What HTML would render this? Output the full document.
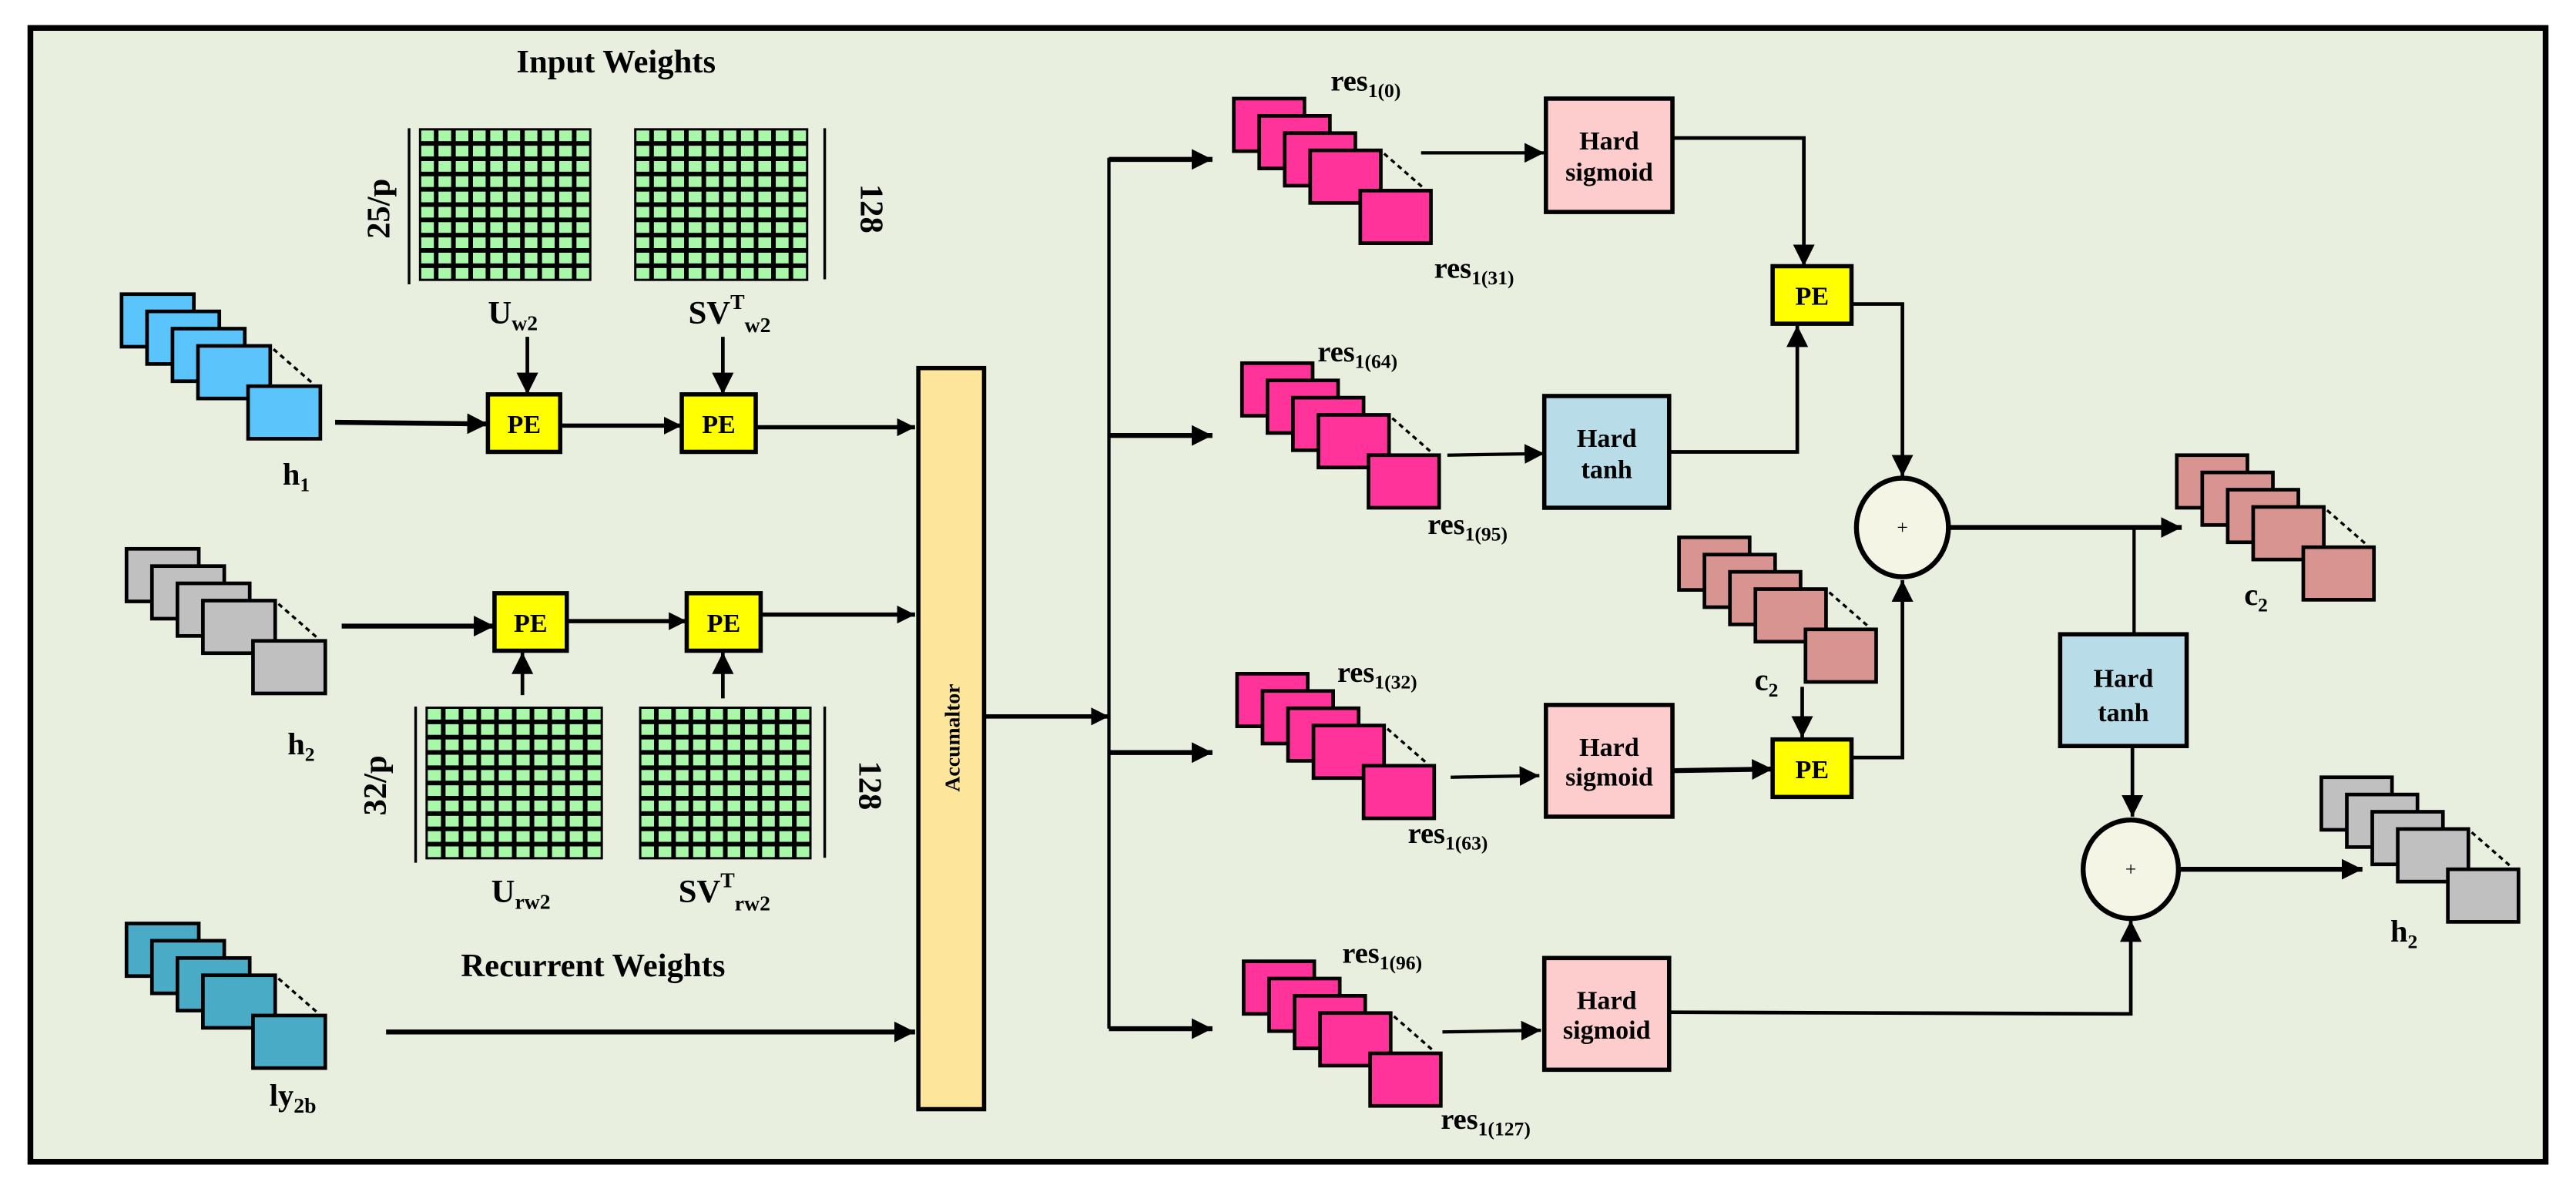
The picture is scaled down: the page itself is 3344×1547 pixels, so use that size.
<!DOCTYPE html>
<html><head><meta charset="utf-8"><style>
html,body{margin:0;padding:0;background:#fff;}
svg{display:block;}
text{font-family:"Liberation Serif",serif;font-weight:bold;fill:#000;}
</style></head><body>
<svg id="s" width="3344" height="1547" viewBox="0 0 1568 725.4" preserveAspectRatio="none" xmlns="http://www.w3.org/2000/svg">
<defs>
<marker id="a" viewBox="0 0 10 10" refX="10" refY="5" markerWidth="4.2" markerHeight="4.2" orient="auto" markerUnits="strokeWidth"><path d="M0,0 L10,5 L0,10 z" fill="#000"/></marker>
<marker id="b" viewBox="0 0 10 10" refX="10" refY="5" markerWidth="6" markerHeight="6" orient="auto" markerUnits="strokeWidth"><path d="M0,0 L10,5 L0,10 z" fill="#000"/></marker>
</defs>
<rect x="18.5" y="17" width="1531" height="690" fill="#e9efdf" stroke="#000" stroke-width="3.5"/>
<g id="g"></g>
<text x="375" y="44" font-size="20" text-anchor="middle">Input Weights</text>
<text x="361" y="594" font-size="20" text-anchor="middle">Recurrent Weights</text>
<text transform="translate(237,127) rotate(-90)" font-size="20" text-anchor="middle">25/p</text>
<text transform="translate(524,127) rotate(90)" font-size="20" text-anchor="middle">128</text>
<text transform="translate(235,478) rotate(-90)" font-size="20" text-anchor="middle">32/p</text>
<text transform="translate(523,478) rotate(90)" font-size="20" text-anchor="middle">128</text>
<text x="297" y="197" font-size="20">U<tspan font-size="13" dy="4">w2</tspan></text>
<text x="419" y="197" font-size="20">SV<tspan font-size="13" dy="-9">T</tspan><tspan font-size="13" dy="14">w2</tspan></text>
<text x="299" y="549" font-size="20">U<tspan font-size="13" dy="4">rw2</tspan></text>
<text x="413" y="549" font-size="20">SV<tspan font-size="13" dy="-9">T</tspan><tspan font-size="13" dy="14">rw2</tspan></text>
<text x="172" y="295" font-size="19">h<tspan font-size="12" dy="4">1</tspan></text>
<text x="175" y="459" font-size="19">h<tspan font-size="12" dy="4">2</tspan></text>
<text x="164" y="673" font-size="19">ly<tspan font-size="13" dy="4">2b</tspan></text>
<text transform="translate(584,449) rotate(-90)" font-size="13" text-anchor="middle">Accumaltor</text>
<text x="810" y="55" font-size="18">res<tspan font-size="12" dy="4">1(0)</tspan></text>
<text x="873" y="169" font-size="18">res<tspan font-size="12" dy="4">1(31)</tspan></text>
<text x="802" y="220" font-size="18">res<tspan font-size="12" dy="4">1(64)</tspan></text>
<text x="869" y="325" font-size="18">res<tspan font-size="12" dy="4">1(95)</tspan></text>
<text x="814" y="415" font-size="18">res<tspan font-size="12" dy="4">1(32)</tspan></text>
<text x="857" y="513" font-size="18">res<tspan font-size="12" dy="4">1(63)</tspan></text>
<text x="817" y="586" font-size="18">res<tspan font-size="12" dy="4">1(96)</tspan></text>
<text x="877" y="687" font-size="18">res<tspan font-size="12" dy="4">1(127)</tspan></text>
<text x="1366" y="368" font-size="19">c<tspan font-size="12" dy="4">2</tspan></text>
<text x="1068" y="420" font-size="19">c<tspan font-size="12" dy="4">2</tspan></text>
<text x="1455" y="573" font-size="19">h<tspan font-size="12" dy="4">2</tspan></text>
<g font-size="16" text-anchor="middle">
<text x="979.5" y="91">Hard</text><text x="979.5" y="110">sigmoid</text>
<text x="978" y="272">Hard</text><text x="978" y="291">tanh</text>
<text x="979.5" y="460">Hard</text><text x="979.5" y="478">sigmoid</text>
<text x="978" y="614">Hard</text><text x="978" y="632">sigmoid</text>
<text x="1292.5" y="418">Hard</text><text x="1292.5" y="439">tanh</text>
</g>
<text x="1158" y="325" font-size="12" text-anchor="middle" style="font-weight:normal">+</text>
<text x="1297" y="533" font-size="12" text-anchor="middle" style="font-weight:normal">+</text>
<g id="pe" font-size="16" text-anchor="middle"></g>
</svg>
<script>
var NS="http://www.w3.org/2000/svg",g=document.getElementById("g"),pe=document.getElementById("pe");
function el(t,a,p){var e=document.createElementNS(NS,t);for(var k in a)e.setAttribute(k,a[k]);(p||g).appendChild(e);return e;}
function grid(x,y,w,h){el("rect",{x:x,y:y,width:w,height:h,fill:"#000"});var cw=w/10,ch=h/10;for(var i=0;i<10;i++)for(var j=0;j<10;j++)el("rect",{x:x+i*cw+1.4,y:y+j*ch+1.4,width:cw-2.8,height:ch-2.8,fill:"#a9f7a9"});}
function stack(x,y,col,w,h){w=w||43;h=h||32;var dx=15.5,dy=10.5;for(var i=0;i<4;i++)el("rect",{x:x+i*dx,y:y+i*dy,width:w,height:h,fill:col,stroke:"#000","stroke-width":2.2});
el("line",{x1:x+3*dx+w+2,y1:y+3*dy+2,x2:x+77+w-5,y2:y+56-2,stroke:"#000","stroke-width":1.6,"stroke-dasharray":"3,2.5"});
el("rect",{x:x+77,y:y+56,width:w,height:h,fill:col,stroke:"#000","stroke-width":2.2});}
function L(pts,w,arrow){el("polyline",{points:pts,fill:"none",stroke:"#000","stroke-width":w||2,"marker-end":arrow===false?"":"url(#"+(w>2.2?"a":"b")+")"});}
function box(x,y,w,h,col){el("rect",{x:x,y:y,width:w,height:h,fill:col,stroke:"#000","stroke-width":2.6});}
function PE(x,y,w,h){box(x,y,w,h,"#ffff00");var t=el("text",{x:x+w/2,y:y+h/2+6},pe);t.textContent="PE";}
grid(255,78,105,93);grid(386,78,106,93);grid(259,430,108,93);grid(389,430,105,93);
el("line",{x1:249,y1:78,x2:249,y2:173,stroke:"#000","stroke-width":1.6});
el("line",{x1:502,y1:78,x2:502,y2:170,stroke:"#000","stroke-width":1.6});
el("line",{x1:253,y1:430,x2:253,y2:525,stroke:"#000","stroke-width":1.6});
el("line",{x1:502,y1:430,x2:502,y2:522,stroke:"#000","stroke-width":1.6});
stack(74,179,"#5bc5fb",44,32);
stack(77,334,"#c0c0c0",44,32);
stack(77,562,"#4aabc6",44,32);
box(559,224,40,451,"#fde59b");
PE(297,240,44,35);PE(415,240,45,35);PE(301,361,44,35);PE(418,361,45,35);
L("204,257 297,258",3);L("341,259 415,259",2.6);L("460,260 557,260",2.6);
L("321,205 321,240",2.2);L("440,205 440,240",2.2);
L("208,381 301,381",3);L("345,378 418,378",2.6);L("463,374 557,374",2.6);
L("318,423 318,397",2.2);L("440,425 440,397",2.2);
L("235,628 557,628",3);
L("600,436 675,436",2.6);
el("line",{x1:675,y1:96,x2:675,y2:626,stroke:"#000","stroke-width":2});
L("675,97 738,97",3);L("675,265 738,265",3);L("675,458 738,458",3);L("675,626 738,626",3);
stack(751,60,"#ff3399");stack(756,221,"#ff3399");stack(753,410,"#ff3399");stack(757,585,"#ff3399");
stack(1022,327,"#d89490");stack(1325,277,"#d89490");
stack(1413,473,"#c0c0c0");
box(941,60,77,69,"#fdcccc");box(940,241,76,68,"#b8dde8");box(941,429,77,68,"#fdcccc");box(940,583,76,68,"#fdcccc");box(1254,386,77,68,"#b8dde8");
PE(1079,162,48,35);PE(1079,450,48,35);
L("865,93 940,93",2);L("881,277 940,276",2);L("883,473 937,472",2);L("878,628 938,627",2);
L("1018,84 1098,84 1098,162",2.2);
L("1016,275 1094,275 1094,198",2.2);
L("1127,185 1158,185 1158,290",2.2);
L("1018,469 1079,468",3);
L("1097,418 1097,449",2.2);
L("1127,461 1158,461 1158,353",2.2);
L("1016,616 1297,617 1297,560",2.2);
el("ellipse",{cx:1158,cy:321,rx:28,ry:30,fill:"#f4f5e4",stroke:"#000","stroke-width":3});
el("ellipse",{cx:1297,cy:529,rx:29,ry:30,fill:"#f4f5e4",stroke:"#000","stroke-width":3});
L("1186,321 1328,321",3);
el("line",{x1:1299,y1:321,x2:1299,y2:386,stroke:"#000","stroke-width":2});
L("1298,454 1298,497",2.2);
L("1326,529 1438,529",3);
</script>
</body></html>
